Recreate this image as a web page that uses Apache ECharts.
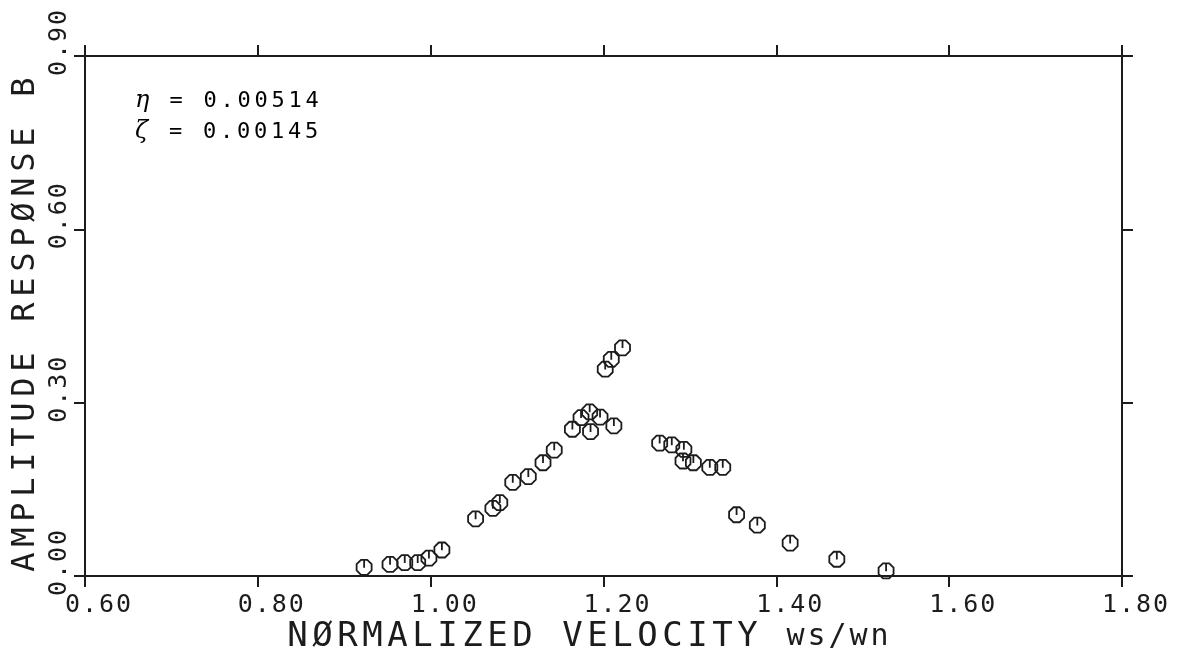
<!DOCTYPE html>
<html>
<head>
<meta charset="utf-8">
<script src="https://cdn.jsdelivr.net/npm/echarts@6/dist/echarts.min.js"></script>
<style>
  html, body { margin: 0; padding: 0; background: #ffffff; }
  #chart { width: 1185px; height: 658px; }
</style>
</head>
<body>
<div id="chart"></div>
<script>
// Measured amplitude response B against normalized velocity ws/wn
const velocity = [
  0.923, 0.953, 0.970, 0.985, 0.998, 1.013,
  1.052, 1.072, 1.080, 1.095, 1.113, 1.130, 1.143,
  1.164, 1.174, 1.184, 1.185, 1.196, 1.212,
  1.202, 1.209, 1.222,
  1.265, 1.279, 1.293, 1.292, 1.304, 1.323, 1.338,
  1.354, 1.378, 1.416, 1.470, 1.527
];
const amplitude = [
  0.015, 0.020, 0.023, 0.023, 0.031, 0.045,
  0.099, 0.117, 0.127, 0.162, 0.172, 0.196, 0.218,
  0.254, 0.274, 0.284, 0.250, 0.275, 0.260,
  0.358, 0.375, 0.395,
  0.230, 0.227, 0.219, 0.199, 0.196, 0.188, 0.188,
  0.106, 0.088, 0.057, 0.029, 0.009
];

// Axis ranges and tick spacing
const xRange = [0.6, 1.8];
const xStep = 0.2;
const yRange = [0, 0.9];
const yStep = 0.3;

// Texts
const xTitleMain = 'NØRMALIZED VELOCITY ';
const xTitleUnit = 'ws/wn';
const yTitle = 'AMPLITUDE RESPØNSE B';
const paramLines = [
  ['η', ' = 0.00514'],
  ['ζ', ' = 0.00145']
];

const INK = '#1c1c1c';
const MONO = '"DejaVu Sans Mono", "Liberation Mono", monospace';

// Plotter-style lettering: every character sits in a fixed-width cell
function cells(str, key) {
  return Array.from(str).map(function (ch) {
    return '{' + key + '|' + ch + '}';
  }).join('');
}
function cellStyle(size, pitch, extra) {
  return Object.assign({
    fontFamily: MONO, fontSize: size, width: pitch, align: 'center',
    color: INK
  }, extra || {});
}

// Octagonal plotter marker with a short radial stroke from the top
const MARKER = 'path://M38,-92L92,-38L92,38L38,92L-38,92L-92,38L-92,-38L-38,-92ZM0,-92L0,4';

const tickLabelRich = { t: cellStyle(25, 17) };
const axisLineStyle = { onZero: false, lineStyle: { color: INK, width: 2 } };
const tickStyle = { show: true, inside: false, length: 11, lineStyle: { color: INK, width: 2 } };

const chart = echarts.init(document.getElementById('chart'), null, { renderer: 'canvas' });

chart.setOption({
  animation: false,
  backgroundColor: '#ffffff',
  grid: { left: 85, right: 63, top: 56, bottom: 82, outerBoundsMode: 'none', containLabel: false },
  xAxis: [
    {
      type: 'value', position: 'bottom', min: xRange[0], max: xRange[1], interval: xStep,
      axisLine: axisLineStyle, axisTick: tickStyle, splitLine: { show: false },
      axisLabel: {
        show: true, margin: 17, padding: [0, 0, 0, 26],
        showMinLabel: true, showMaxLabel: true,
        formatter: function (v) { return cells(v.toFixed(2), 't'); },
        rich: tickLabelRich
      },
      name: cells(xTitleMain, 'u') + cells(xTitleUnit, 'l'),
      nameLocation: 'middle', nameGap: 44, nameMoveOverlap: false,
      nameTextStyle: {
        padding: [0, 32, 0, 0],
        rich: { u: cellStyle(34, 25), l: cellStyle(30, 21) }
      }
    },
    {
      type: 'value', position: 'top', min: xRange[0], max: xRange[1], interval: xStep,
      axisLine: axisLineStyle, axisTick: tickStyle, splitLine: { show: false },
      axisLabel: { show: false }
    }
  ],
  yAxis: [
    {
      type: 'value', position: 'left', min: yRange[0], max: yRange[1], interval: yStep,
      axisLine: axisLineStyle, axisTick: tickStyle, splitLine: { show: false },
      axisLabel: {
        show: true, rotate: 90, margin: 13, padding: [0, 0, 0, 26],
        showMinLabel: true, showMaxLabel: true,
        formatter: function (v) { return cells(v.toFixed(2), 't'); },
        rich: tickLabelRich
      },
      name: cells(yTitle, 'u'),
      nameLocation: 'middle', nameRotate: 90, nameGap: 43, nameMoveOverlap: false,
      nameTextStyle: {
        padding: [0, 17, 0, 0],
        rich: { u: cellStyle(32, 25) }
      }
    },
    {
      type: 'value', position: 'right', min: yRange[0], max: yRange[1], interval: yStep,
      axisLine: axisLineStyle, axisTick: tickStyle, splitLine: { show: false },
      axisLabel: { show: false }
    }
  ],
  graphic: paramLines.map(function (line, i) {
    return {
      type: 'text', left: 135, top: 89 + i * 31, silent: true,
      style: {
        text: cells(line[0], 'g') + cells(line[1], 'd'),
        rich: {
          g: cellStyle(24, 17, { fontFamily: '"DejaVu Serif", serif', fontStyle: 'italic' }),
          d: cellStyle(22, 17)
        }
      }
    };
  }),
  series: [
    {
      type: 'scatter',
      xAxisIndex: 0, yAxisIndex: 0,
      data: velocity.map(function (v, i) { return [v, amplitude[i]]; }),
      symbol: MARKER,
      symbolSize: 15,
      itemStyle: { color: 'rgba(0,0,0,0)', borderColor: INK, borderWidth: 1.8, opacity: 1 },
      emphasis: { disabled: true },
      clip: false,
      z: 3
    }
  ]
});
</script>
</body>
</html>
